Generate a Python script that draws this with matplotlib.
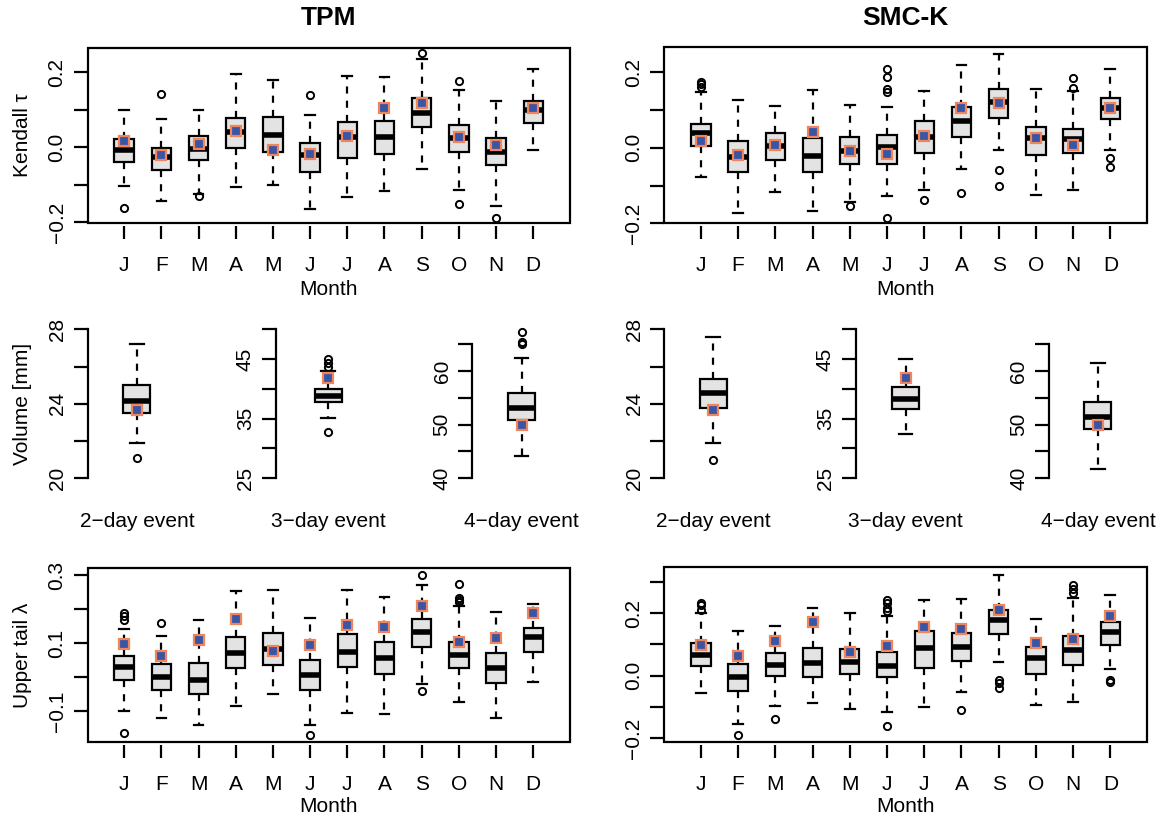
import matplotlib
matplotlib.use("Agg")
import matplotlib.pyplot as plt

plt.rcParams['font.family'] = ['Liberation Sans', 'DejaVu Sans']

W, H = 1160, 818
months = ["J", "F", "M", "A", "M", "J", "J", "A", "S", "O", "N", "D"]
events = ["2\u2212day event", "3\u2212day event", "4\u2212day event"]

# ---- Kendall tau, TPM (whisker low, q1, median, q3, whisker high, outliers)
tau_tpm_lo = [-0.104, -0.143, -0.124, -0.106, -0.100, -0.164, -0.132, -0.117, -0.057, -0.115, -0.156, -0.008]
tau_tpm_q1 = [-0.040, -0.061, -0.035, -0.002, -0.013, -0.066, -0.028, -0.017, 0.053, -0.012, -0.048, 0.065]
tau_tpm_med = [-0.008, -0.026, -0.004, 0.041, 0.032, -0.020, 0.026, 0.028, 0.092, 0.025, -0.014, 0.099]
tau_tpm_q3 = [0.021, -0.002, 0.029, 0.078, 0.079, 0.012, 0.066, 0.069, 0.131, 0.060, 0.025, 0.124]
tau_tpm_hi = [0.100, 0.076, 0.099, 0.196, 0.180, 0.086, 0.189, 0.186, 0.234, 0.152, 0.124, 0.207]
tau_tpm_out = [[-0.162], [0.141], [-0.130], [], [], [0.138], [], [], [0.250], [0.177, -0.150], [-0.188], []]

# ---- Kendall tau, SMC-K
tau_smc_lo = [-0.077, -0.173, -0.118, -0.168, -0.143, -0.127, -0.112, -0.057, -0.006, -0.125, -0.111, -0.006]
tau_smc_q1 = [0.004, -0.063, -0.033, -0.063, -0.044, -0.042, -0.013, 0.029, 0.079, -0.019, -0.015, 0.075]
tau_smc_med = [0.040, -0.024, 0.005, -0.022, -0.008, 0.001, 0.029, 0.071, 0.121, 0.026, 0.024, 0.104]
tau_smc_q3 = [0.064, 0.017, 0.038, 0.026, 0.029, 0.033, 0.072, 0.109, 0.156, 0.056, 0.051, 0.133]
tau_smc_hi = [0.147, 0.126, 0.110, 0.153, 0.113, 0.107, 0.151, 0.218, 0.247, 0.155, 0.151, 0.208]
tau_smc_out = [[0.162, 0.168, 0.173], [], [], [], [-0.154], [0.148, 0.155, 0.188, 0.208, -0.185],
               [-0.139], [-0.121], [-0.059, -0.102], [], [0.157, 0.184], [-0.028, -0.050]]

tau_obs = [0.017, -0.020, 0.008, 0.042, -0.008, -0.017, 0.031, 0.104, 0.118, 0.026, 0.007, 0.105]

# ---- event volumes [mm]
vol_tpm_lo = [21.92, 35.07, 44.23]
vol_tpm_q1 = [23.53, 37.86, 50.88]
vol_tpm_med = [24.17, 38.87, 53.12]
vol_tpm_q3 = [25.01, 39.99, 55.92]
vol_tpm_hi = [27.19, 43.01, 62.39]
vol_tpm_out = [[21.09], [43.74, 44.30, 44.97, 32.77], [65.12, 65.37, 67.24]]

vol_smc_lo = [21.92, 32.44, 41.74]
vol_smc_q1 = [23.78, 36.63, 49.20]
vol_smc_med = [24.56, 38.37, 51.50]
vol_smc_q3 = [25.35, 40.32, 54.24]
vol_smc_hi = [27.61, 45.02, 61.46]
vol_smc_out = [[20.98], [], []]

vol_obs = [23.67, 41.89, 49.89]

# ---- upper tail lambda, TPM
lam_tpm_lo = [-0.100, -0.121, -0.139, -0.083, -0.048, -0.139, -0.106, -0.109, -0.021, -0.074, -0.121, -0.015]
lam_tpm_q1 = [-0.009, -0.036, -0.048, 0.026, 0.037, -0.036, 0.029, 0.009, 0.089, 0.027, -0.016, 0.073]
lam_tpm_med = [0.031, 0.001, -0.009, 0.070, 0.082, 0.008, 0.075, 0.057, 0.132, 0.066, 0.027, 0.117]
lam_tpm_q3 = [0.062, 0.040, 0.041, 0.119, 0.131, 0.050, 0.126, 0.103, 0.171, 0.105, 0.070, 0.145]
lam_tpm_hi = [0.143, 0.122, 0.167, 0.253, 0.257, 0.174, 0.257, 0.236, 0.272, 0.209, 0.191, 0.214]
lam_tpm_out = [[0.167, 0.179, 0.189, -0.165], [0.160], [], [], [], [-0.170], [], [],
               [0.302, -0.040], [0.221, 0.226, 0.234, 0.273], [], []]

# ---- upper tail lambda, SMC-K
lam_smc_lo = [-0.054, -0.155, -0.098, -0.087, -0.108, -0.116, -0.100, -0.052, 0.044, -0.095, -0.084, 0.020]
lam_smc_q1 = [0.031, -0.049, 0.000, -0.004, 0.004, -0.004, 0.025, 0.046, 0.134, 0.006, 0.033, 0.099]
lam_smc_med = [0.067, -0.004, 0.035, 0.040, 0.044, 0.031, 0.088, 0.091, 0.178, 0.056, 0.083, 0.138]
lam_smc_q3 = [0.104, 0.038, 0.072, 0.089, 0.086, 0.075, 0.142, 0.136, 0.211, 0.091, 0.125, 0.170]
lam_smc_hi = [0.201, 0.141, 0.157, 0.216, 0.201, 0.192, 0.242, 0.244, 0.321, 0.181, 0.247, 0.256]
lam_smc_out = [[0.210, 0.224, 0.231], [-0.190], [-0.138], [], [], [0.206, 0.216, 0.232, 0.240, -0.160],
               [], [-0.110], [-0.015, -0.025, -0.038], [], [0.264, 0.277, 0.290], [-0.015, -0.021]]

lam_obs = [0.097, 0.064, 0.109, 0.170, 0.077, 0.095, 0.155, 0.148, 0.209, 0.105, 0.116, 0.190]

BOX_FILL = "#e3e3e3"
SQ_FILL = "#3a55a6"
SQ_EDGE = "#f0845a"
LW = 1.6
FS = 15

fig = plt.figure(figsize=(W / 100, H / 100), dpi=100)


def add_ax(l, t, r, b):
    # pixel box -> figure fraction
    return fig.add_axes([l / W, 1 - b / H, (r - l) / W, (b - t) / H])


def draw_boxes(ax, lo, q1, med, q3, hi, out, pos, width):
    stats = [dict(whislo=a, q1=b, med=c, q3=d, whishi=e, fliers=f)
             for a, b, c, d, e, f in zip(lo, q1, med, q3, hi, out)]
    ax.bxp(stats, positions=pos, widths=width, patch_artist=True,
           boxprops=dict(facecolor=BOX_FILL, edgecolor="black", linewidth=LW),
           medianprops=dict(color="black", linewidth=4.0, solid_capstyle="butt"),
           whiskerprops=dict(color="black", linewidth=LW, linestyle=(0, (3.2, 3.2))),
           capprops=dict(color="black", linewidth=LW),
           flierprops=dict(marker="o", markersize=5.2, markerfacecolor="none",
                           markeredgecolor="black", markeredgewidth=1.4),
           manage_ticks=False)


def month_panel(ax, stats, obs, ylim, yticks, ylabels, gap):
    draw_boxes(ax, *stats, pos=range(1, 13), width=0.52)
    ax.plot(range(1, 13), obs, "s", ms=6.5, mfc=SQ_FILL, mec=SQ_EDGE, mew=1.6, zorder=5)
    ax.set_xlim(0.02, 12.98)
    ax.set_ylim(*ylim)
    ax.patch.set_edgecolor("black")
    ax.patch.set_linewidth(LW)
    for s in ["top", "right", "left"]:
        ax.spines[s].set_visible(False)
    ax.spines["bottom"].set_position(("outward", gap))
    ax.spines["bottom"].set_visible(False)
    ax.set_xticks(range(1, 13))
    ax.set_xticklabels(months, fontsize=FS)
    ax.tick_params(axis="x", length=9, width=LW, pad=12.5)
    ax.set_yticks(yticks)
    ax.set_yticklabels(ylabels, fontsize=FS, rotation=90, va="center")
    ax.tick_params(axis="y", length=10.2, width=LW, pad=5)


def event_panel(ax, stats, obs_val, ylim, yticks, ylabels, label, width):
    draw_boxes(ax, *stats, pos=[1], width=width)
    ax.plot([1], [obs_val], "s", ms=6.5, mfc=SQ_FILL, mec=SQ_EDGE, mew=1.6, zorder=5)
    ax.set_xlim(0.5, 1.5)
    ax.set_ylim(*ylim)
    ax.patch.set_visible(False)
    for s in ["top", "right", "bottom"]:
        ax.spines[s].set_visible(False)
    ax.spines["left"].set_linewidth(LW)
    ax.spines["left"].set_bounds(yticks[0], yticks[-1])
    ax.set_xticks([1])
    ax.set_xticklabels([label], fontsize=FS)
    ax.tick_params(axis="x", length=0, pad=20)
    ax.set_yticks(yticks)
    ax.set_yticklabels(ylabels, fontsize=FS, rotation=90, va="center")
    ax.tick_params(axis="y", length=10, width=LW, pad=5)


def lab(x, y, s, size=FS, **kw):
    fig.text(x / W, 1 - y / H, s, ha="center", va="center", fontsize=size, **kw)


tau_ticks = [-0.2, -0.1, 0.0, 0.1, 0.2]
tau_labels = ["\u22120.2", "", "0.0", "", "0.2"]

# row 1: Kendall tau
ax = add_ax(87.7, 47.7, 569.7, 223.3)
month_panel(ax, (tau_tpm_lo, tau_tpm_q1, tau_tpm_med, tau_tpm_q3, tau_tpm_hi, tau_tpm_out),
            tau_obs, (-0.2027, 0.2648), tau_ticks, tau_labels, 2.0)
ax = add_ax(664.4, 47.3, 1146.8, 223.3)
month_panel(ax, (tau_smc_lo, tau_smc_q1, tau_smc_med, tau_smc_q3, tau_smc_hi, tau_smc_out),
            tau_obs, (-0.2, 0.266), tau_ticks, tau_labels, 2.0)

# row 2: event volumes
vol_ylims = [(19.68, 28.32), (23.99, 51.01), (38.88, 68.92)]
vol_ticks = [[20, 22, 24, 26, 28], [25, 30, 35, 40, 45, 50], [40, 45, 50, 55, 60, 65]]
vol_labels = [["20", "", "24", "", "28"], ["25", "", "35", "", "45", ""], ["40", "", "50", "", "60", ""]]
col_axis_x = [[87.7, 275.6, 472.4], [664.4, 855.6, 1049.1]]
col_box_x = [[136.9, 328.2, 521.6], [713.2, 905.6, 1097.9]]
vol_sets = [(vol_tpm_lo, vol_tpm_q1, vol_tpm_med, vol_tpm_q3, vol_tpm_hi, vol_tpm_out),
            (vol_smc_lo, vol_smc_q1, vol_smc_med, vol_smc_q3, vol_smc_hi, vol_smc_out)]
for c in range(2):
    for k in range(3):
        a_x, b_x = col_axis_x[c][k], col_box_x[c][k]
        w_px = 2 * (b_x - a_x)
        ax = add_ax(a_x, 323.3, a_x + w_px, 484.3)
        st = tuple([v[k]] for v in vol_sets[c])
        event_panel(ax, st, vol_obs[k], vol_ylims[k], vol_ticks[k], vol_labels[k],
                    events[k], 27.0 / w_px)

# row 3: upper tail lambda
ax = add_ax(87.7, 567.7, 569.7, 742.3)
month_panel(ax, (lam_tpm_lo, lam_tpm_q1, lam_tpm_med, lam_tpm_q3, lam_tpm_hi, lam_tpm_out),
            lam_obs, (-0.191, 0.322), [-0.1, 0.0, 0.1, 0.2, 0.3],
            ["\u22120.1", "", "0.1", "", "0.3"], 2.0)
ax = add_ax(664.4, 567.3, 1146.8, 742.3)
month_panel(ax, (lam_smc_lo, lam_smc_q1, lam_smc_med, lam_smc_q3, lam_smc_hi, lam_smc_out),
            lam_obs, (-0.213, 0.346), [-0.2, -0.1, 0.0, 0.1, 0.2, 0.3],
            ["\u22120.2", "", "0.0", "", "0.2", ""], 2.0)

# titles and axis labels
lab(328.7, 18, "TPM", size=19, fontweight="bold")
lab(905.6, 18, "SMC-K", size=19, fontweight="bold")
lab(23, 135.5, "Kendall \u03c4", rotation=90)
lab(23, 403.8, "Volume [mm]", rotation=90)
lab(23, 655, "Upper tail \u03bb", rotation=90)
for xc in [328.7, 905.6]:
    lab(xc, 289.5, "Month")
    lab(xc, 806.5, "Month")

fig.savefig("out.png", dpi=100)
